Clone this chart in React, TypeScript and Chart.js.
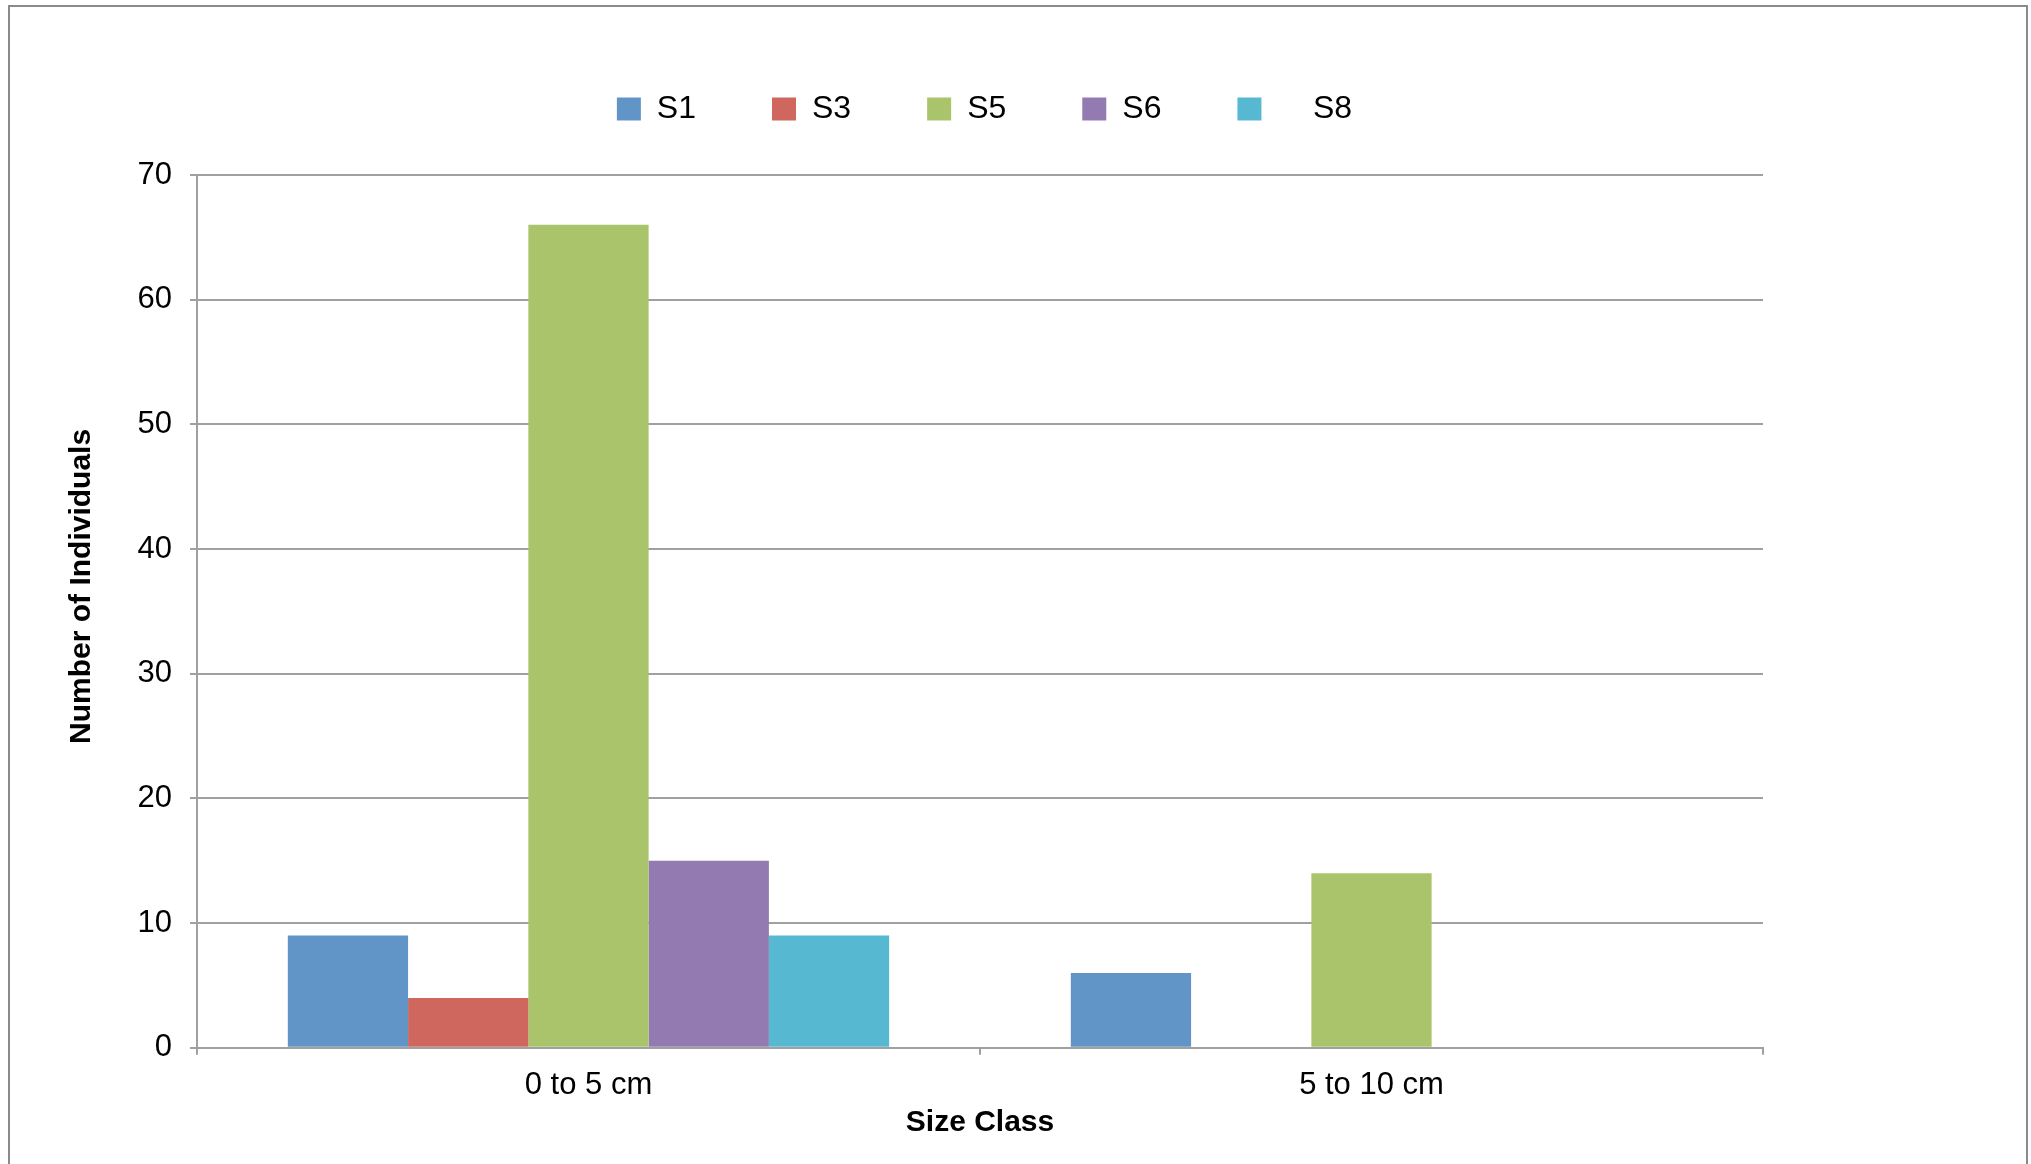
import React, { useEffect, useRef } from 'react';
import { Chart, registerables } from 'chart.js';

Chart.register(...registerables);

const categories = ['0 to 5 cm', '5 to 10 cm'];
const seriesNames = ['S1', 'S3', 'S5', 'S6', '    S8'];
const s1Values = [9, 6];
const s3Values = [4, 0];
const s5Values = [66, 14];
const s6Values = [15, 0];
const s8Values = [9, 0];
const seriesColors = ['#6195C8', '#CF675F', '#AAC46B', '#937AB0', '#56B9D1'];
const yMin = 0;
const yMax = 70;
const yStep = 10;
const xTitle = 'Size Class';
const yTitle = '      Number of Individuals';

const FONT = "'Liberation Sans', Arial, Helvetica, sans-serif";
const GRID = '#a0a0a0';

export default function App() {
  const ref = useRef<HTMLCanvasElement | null>(null);

  useEffect(() => {
    if (!ref.current) return;
    const values = [s1Values, s3Values, s5Values, s6Values, s8Values];

    const framePlugin = {
      id: 'frame',
      beforeDraw(chart: any) {
        const { ctx } = chart;
        ctx.save();
        ctx.fillStyle = '#ffffff';
        ctx.fillRect(0, 0, chart.width, chart.height);
        ctx.strokeStyle = '#8a8a8a';
        ctx.lineWidth = 2;
        ctx.strokeRect(9, 6, 2018, 1300);
        ctx.restore();
      },
    };

    const legendShift = {
      id: 'legendShift',
      afterLayout(chart: any) {
        const lg = chart.legend;
        if (lg) {
          lg.left += 98;
          lg.right += 98;
        }
      },
    };

    const chart = new Chart(ref.current, {
      type: 'bar',
      data: {
        labels: categories,
        datasets: seriesNames.map((name, i) => ({
          label: name,
          data: values[i],
          backgroundColor: seriesColors[i],
          borderWidth: 0,
          categoryPercentage: 0.768,
          barPercentage: 1.0,
        })),
      },
      options: {
        animation: false,
        responsive: false,
        devicePixelRatio: 1,
        layout: { padding: { left: 10, right: 268, top: 17, bottom: 23 } },
        plugins: {
          legend: {
            position: 'top',
            align: 'center',
            labels: {
              boxWidth: 24,
              boxHeight: 23,
              padding: 76,
              color: '#000000',
              font: { size: 32, family: FONT },
            },
          },
          subtitle: {
            display: true,
            text: '',
            weight: 500,
            font: { size: 10, family: FONT },
            padding: { top: 0, bottom: 28 },
          },
          tooltip: { enabled: false },
        },
        scales: {
          x: {
            grid: {
              display: true,
              drawOnChartArea: false,
              drawTicks: true,
              tickLength: 7,
              color: GRID,
              lineWidth: 2,
              offset: true,
            },
            border: { display: true, color: GRID, width: 2 },
            ticks: {
              color: '#000000',
              font: { size: 31, family: FONT },
              padding: 12,
            },
            title: {
              display: true,
              text: xTitle,
              color: '#000000',
              font: { size: 30, weight: 'bold', family: FONT },
              padding: { top: -11, bottom: 0 },
            },
          },
          y: {
            min: yMin,
            max: yMax,
            ticks: {
              stepSize: yStep,
              padding: 18,
              color: '#000000',
              font: { size: 31, family: FONT },
            },
            grid: {
              color: GRID,
              lineWidth: 2,
              tickLength: 7,
              drawTicks: true,
            },
            border: { display: true, color: GRID, width: 2 },
            title: {
              display: true,
              text: yTitle,
              color: '#000000',
              font: { size: 30, weight: 'bold', family: FONT },
              padding: { top: 54, bottom: 19.5 },
            },
          },
        },
      },
      plugins: [framePlugin, legendShift],
    } as any);

    return () => chart.destroy();
  }, []);

  return (
    <div style={{ position: 'fixed', left: 0, top: 0, width: 2031, height: 1164, background: '#fff' }}>
      <canvas ref={ref} width={2031} height={1164} style={{ width: 2031, height: 1164, display: 'block' }} />
    </div>
  );
}
